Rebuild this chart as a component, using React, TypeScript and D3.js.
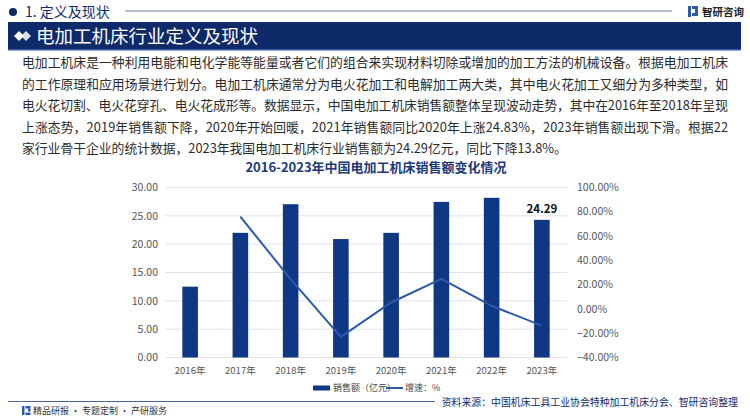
import React from "react";
import * as d3 from "d3";

const years = ["2016年", "2017年", "2018年", "2019年", "2020年", "2021年", "2022年", "2023年"];
const sales = [12.5, 22.0, 27.05, 20.9, 22.0, 27.46, 28.18, 24.29];
const growth: (number | null)[] = [null, 76.0, 24.5, -23.0, 5.3, 24.83, 2.6, -13.8];
const leftTicks = [0, 5, 10, 15, 20, 25, 30];
const rightTicks = [-40, -20, 0, 20, 40, 60, 80, 100];
const paragraph = [
  "电加工机床是一种利用电能和电化学能等能量或者它们的组合来实现材料切除或增加的加工方法的机械设备。根据电加工机床",
  "的工作原理和应用场景进行划分。电加工机床通常分为电火花加工和电解加工两大类，其中电火花加工又细分为多种类型，如",
  "电火花切割、电火花穿孔、电火花成形等。数据显示，中国电加工机床销售额整体呈现波动走势，其中在2016年至2018年呈现",
  "上涨态势，2019年销售额下降，2020年开始回暖，2021年销售额同比2020年上涨24.83%，2023年销售额出现下滑。根据22",
  "家行业骨干企业的统计数据，2023年我国电加工机床行业销售额为24.29亿元，同比下降13.8%。",
];
const chartTitle = "2016-2023年中国电加工机床销售额变化情况";
const sectionTitle = "1. 定义及现状";
const bannerTitle = "电加工机床行业定义及现状";
const legendBar = "销售额（亿元）";
const legendLine = "增速：%";
const source = "资料来源：中国机床工具工业协会特种加工机床分会、智研咨询整理";
const footer = "精品研报 · 专题定制 · 产研服务";
const brand = "智研咨询";

const FONT = "'Noto Sans CJK SC', 'Noto Sans', sans-serif";
const NAVY = "#0f2a68";
const BAR = "#0e3784";
const LINE = "#2d5aa9";

export default function App() {
  const x = d3.scaleBand<string>().domain(years).range([165, 567]).paddingInner(0.69).paddingOuter(0.345);
  const yL = d3.scaleLinear().domain([0, 30]).range([357.5, 187.5]);
  const yR = d3.scaleLinear().domain([-40, 100]).range([357.5, 187.5]);
  const cx = (y: string) => (x(y) as number) + x.bandwidth() / 2;
  const linePts = years
    .map((y, i) => ({ y, g: growth[i] }))
    .filter((d) => d.g !== null) as { y: string; g: number }[];
  const lineGen = d3
    .line<{ y: string; g: number }>()
    .x((d) => cx(d.y))
    .y((d) => yR(d.g));
  const last = years.length - 1;

  return (
    <svg width={750} height={420} style={{ position: "absolute", left: 0, top: 0, fontFamily: FONT }}>
      <rect width={750} height={420} fill="#ffffff" />
      {/* top header */}
      <circle cx={13} cy={12} r={4} fill={NAVY} />
      <text x={25} y={12} dy="0.35em" fontSize={14} fill={NAVY}>{sectionTitle}</text>
      <line x1={125} x2={672} y1={11} y2={11} stroke="#6f7fab" strokeWidth={1} />
      <g transform="translate(688,4)">
        <rect x={0} y={2} width={3} height={11} fill="#2d5aa9" />
        <rect x={4} y={2} width={6} height={3} fill="#2d5aa9" />
        <rect x={7} y={5} width={3} height={4} fill="#2d5aa9" />
        <rect x={4} y={9} width={6} height={3} fill="#2d5aa9" />
      </g>
      <text x={702} y={12} dy="0.35em" fontSize={10.5} fontWeight="bold" fill="#222">{brand}</text>
      {/* banner */}
      <rect x={8} y={22} width={733} height={28} fill={NAVY} />
      <rect x={8} y={49} width={733} height={1.5} fill="#3a5aa0" />
      <path d="M14,36 L19,31 L24,36 L19,41 Z" fill="#ffffff" />
      <path d="M21,36 L26,31 L31,36 L26,41 Z" fill="#ffffff" opacity={0.85} />
      <text x={36} y={36.5} dy="0.35em" fontSize={18.5} fill="#ffffff">{bannerTitle}</text>
      {/* paragraph */}
      {paragraph.map((t, i) => (
        <text
          key={i}
          x={22}
          y={63 + i * 21.5}
          dy="0.35em"
          fontSize={12.8}
          fill="#2b2b2b"
          {...(i < paragraph.length - 1 ? { textLength: 706, lengthAdjust: "spacing" } : {})}
        >
          {t}
        </text>
      ))}
      {/* chart title */}
      <text x={376} y={167.5} dy="0.35em" textAnchor="middle" fontSize={13} fontWeight="bold" fill="#1b3a7a">
        {chartTitle}
      </text>
      {/* grid */}
      {leftTicks.map((t) => (
        <line key={t} x1={165} x2={567} y1={yL(t)} y2={yL(t)} stroke="#e3e3e3" strokeWidth={1} />
      ))}
      {leftTicks.map((t) => (
        <text key={t} x={158} y={yL(t)} dy="0.35em" textAnchor="end" fontSize={10.5} fill="#555">
          {d3.format(".2f")(t)}
        </text>
      ))}
      {rightTicks.map((t) => (
        <text key={t} x={577} y={yR(t)} dy="0.35em" textAnchor="start" fontSize={10.5} fill="#555">
          {d3.format(".2f")(t) + "%"}
        </text>
      ))}
      {/* bars */}
      {years.map((y, i) => (
        <rect key={y} x={x(y)} y={yL(sales[i])} width={x.bandwidth()} height={yL(0) - yL(sales[i])} fill={BAR} />
      ))}
      {/* line */}
      <path d={lineGen(linePts) || ""} fill="none" stroke={LINE} strokeWidth={2} />
      {/* label */}
      <text x={cx(years[last])} y={yL(sales[last]) - 11} dy="0.35em" textAnchor="middle" fontSize={11.5} fontWeight="bold" fill="#111">
        {d3.format(".2f")(sales[last])}
      </text>
      {/* x labels */}
      {years.map((y) => (
        <text key={y} x={cx(y)} y={371} dy="0.35em" textAnchor="middle" fontSize={9.5} fill="#555">
          {y}
        </text>
      ))}
      {/* legend */}
      <rect x={313} y={385.5} width={17} height={5} fill={BAR} />
      <text x={333} y={388} dy="0.35em" fontSize={9} fill="#444">{legendBar}</text>
      <line x1={386} x2={403} y1={388} y2={388} stroke={LINE} strokeWidth={2} />
      <text x={405} y={388} dy="0.35em" fontSize={9} fill="#444">{legendLine}</text>
      {/* footer */}
      <line x1={8} x2={435} y1={401.5} y2={401.5} stroke="#4a63a0" strokeWidth={1} />
      <text x={738} y={403} dy="0.35em" textAnchor="end" fontSize={9.9} fill={NAVY}>{source}</text>
      <g transform="translate(22,406)">
        <rect x={0} y={0} width={2.5} height={9} fill="#2d5aa9" />
        <rect x={3.5} y={0} width={5} height={2.5} fill="#2d5aa9" />
        <rect x={6} y={2.5} width={2.5} height={3} fill="#2d5aa9" />
        <rect x={3.5} y={6.5} width={5} height={2.5} fill="#2d5aa9" />
      </g>
      <text x={33} y={411} dy="0.35em" fontSize={9} fill="#333">{footer}</text>
    </svg>
  );
}
